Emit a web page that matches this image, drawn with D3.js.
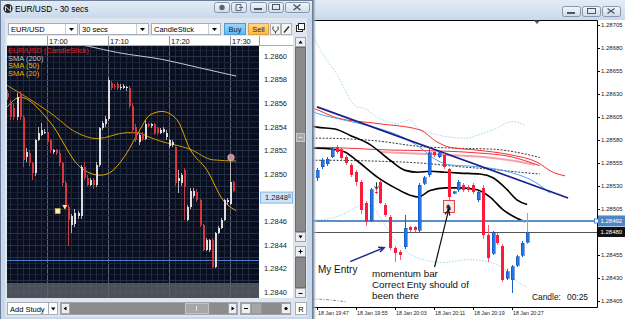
<!DOCTYPE html>
<html>
<head>
<meta charset="utf-8">
<script src="https://cdn.jsdelivr.net/npm/d3@7"></script>
<style>
  body { margin: 0; overflow: hidden; background: #d7e3f1; }
  svg { display: block; font-family: "Liberation Sans", Arial, sans-serif; }
</style>
</head>
<body>
<div id="container"></div>
<script>
/* CONSTANTS AND GLOBALS */
const width = 625, height = 319

/* DATA - left window (EUR/USD 30 secs) */
const leftTitle = "EUR/USD - 30 secs"
const leftSelectors = ["EUR/USD", "30 secs", "CandleStick"]
const leftStart = new Date(2013, 0, 18, 16, 53, 30)
const leftBarSecs = 30
const leftTimeTicks = ["17:00", "17:10", "17:20", "17:30"]
const leftPriceTicks = [1.2860, 1.2858, 1.2856, 1.2854, 1.2852, 1.2850, 1.2848, 1.2846, 1.2844, 1.2842, 1.2840]
const leftLegend = ["EUR/USD (CandleStick)", "SMA (200)", "SMA (50)", "SMA (20)"]
const leftLastPrice = 1.2848
const leftHLine = 1.28427
// [open, high, low, close]
const leftCandles = [
  [1.28569, 1.28571, 1.28563, 1.28565], [1.28560, 1.28563, 1.28546, 1.28548], [1.28556, 1.28560, 1.28546, 1.28548],
  [1.28548, 1.28569, 1.28546, 1.28565], [1.28567, 1.28570, 1.28546, 1.28548], [1.28548, 1.28550, 1.28506, 1.28512],
  [1.28514, 1.28522, 1.28510, 1.28519], [1.28518, 1.28520, 1.28507, 1.28509], [1.28509, 1.28510, 1.28495, 1.28501],
  [1.28501, 1.28530, 1.28498, 1.28529], [1.28529, 1.28540, 1.28528, 1.28535], [1.28533, 1.28543, 1.28532, 1.28537],
  [1.28535, 1.28538, 1.28534, 1.28536], [1.28536, 1.28540, 1.28525, 1.28527], [1.28529, 1.28530, 1.28518, 1.28520],
  [1.28519, 1.28521, 1.28517, 1.28520], [1.28520, 1.28521, 1.28516, 1.28518], [1.28518, 1.28520, 1.28507, 1.28509],
  [1.28509, 1.28510, 1.28490, 1.28492], [1.28492, 1.28494, 1.28470, 1.28472], [1.28472, 1.28474, 1.28439, 1.28461],
  [1.28457, 1.28466, 1.28450, 1.28464], [1.28458, 1.28470, 1.28455, 1.28467], [1.28464, 1.28469, 1.28462, 1.28467],
  [1.28464, 1.28508, 1.28462, 1.28506], [1.28506, 1.28510, 1.28495, 1.28497], [1.28497, 1.28499, 1.28490, 1.28491],
  [1.28491, 1.28497, 1.28490, 1.28495], [1.28495, 1.28497, 1.28487, 1.28491], [1.28491, 1.28510, 1.28489, 1.28508],
  [1.28508, 1.28540, 1.28506, 1.28539], [1.28539, 1.28545, 1.28537, 1.28543], [1.28542, 1.28549, 1.28540, 1.28547],
  [1.28547, 1.28582, 1.28545, 1.28580], [1.28577, 1.28579, 1.28571, 1.28573], [1.28575, 1.28576, 1.28572, 1.28574],
  [1.28576, 1.28578, 1.28571, 1.28573], [1.28573, 1.28576, 1.28571, 1.28574], [1.28573, 1.28576, 1.28572, 1.28575],
  [1.28574, 1.28575, 1.28570, 1.28574], [1.28573, 1.28575, 1.28556, 1.28558], [1.28558, 1.28560, 1.28535, 1.28537],
  [1.28540, 1.28542, 1.28527, 1.28529], [1.28527, 1.28535, 1.28525, 1.28533], [1.28533, 1.28536, 1.28528, 1.28530],
  [1.28530, 1.28546, 1.28529, 1.28542], [1.28542, 1.28543, 1.28540, 1.28541], [1.28541, 1.28543, 1.28539, 1.28542],
  [1.28542, 1.28543, 1.28533, 1.28535], [1.28539, 1.28540, 1.28533, 1.28535], [1.28535, 1.28539, 1.28534, 1.28537],
  [1.28536, 1.28540, 1.28535, 1.28538], [1.28531, 1.28537, 1.28529, 1.28535], [1.28524, 1.28530, 1.28522, 1.28529],
  [1.28525, 1.28529, 1.28523, 1.28527], [1.28523, 1.28525, 1.28490, 1.28492], [1.28494, 1.28503, 1.28484, 1.28497],
  [1.28492, 1.28501, 1.28490, 1.28499], [1.28503, 1.28505, 1.28461, 1.28489], [1.28461, 1.28474, 1.28460, 1.28472],
  [1.28472, 1.28488, 1.28470, 1.28486], [1.28481, 1.28488, 1.28480, 1.28486], [1.28485, 1.28487, 1.28476, 1.28478],
  [1.28478, 1.28479, 1.28455, 1.28457], [1.28457, 1.28458, 1.28435, 1.28436], [1.28436, 1.28446, 1.28435, 1.28444],
  [1.28436, 1.28445, 1.28434, 1.28444], [1.28444, 1.28446, 1.28420, 1.28421], [1.28421, 1.28451, 1.28420, 1.28450],
  [1.28450, 1.28456, 1.28449, 1.28454], [1.28454, 1.28463, 1.28453, 1.28461], [1.28461, 1.28479, 1.28460, 1.28478],
  [1.28476, 1.28480, 1.28474, 1.28478], [1.28475, 1.28514, 1.28474, 1.28493], [1.28493, 1.28494, 1.28485, 1.28486]
]
// [bar index, price]
const leftSma200 = [[15, 1.28614], [27, 1.28608], [36, 1.28603], [51, 1.28597], [63, 1.28590], [75, 1.28583]]
const leftSma50 = [[0, 1.28575], [14, 1.28552], [22.8, 1.28535], [29.4, 1.28530], [39.2, 1.28535], [42.5, 1.28535],
  [46.8, 1.28531], [50, 1.28528], [59.9, 1.28521], [67.4, 1.28512], [75, 1.28511]]
const leftSma20 = [[0, 1.28557], [4.2, 1.28565], [14, 1.28544], [23.8, 1.28506], [30.4, 1.28499], [32.7, 1.28500],
  [39.2, 1.28518], [42.5, 1.28533], [46.8, 1.28550], [50.7, 1.28553], [55.6, 1.28546], [59.9, 1.28521],
  [65.5, 1.28503], [70.7, 1.28478], [75, 1.28469]]
const leftTradeSquare = [16.5, 1.28469]
const leftTradeTriangle = [19, 1.28472]
const leftLastDot = [73, 1.28514]

/* DATA - right chart (1 minute bars) */
const rightStart = new Date(2013, 0, 18, 19, 47)
const rightTimeTicks = ["18 Jan 19:47", "18 Jan 19:55", "18 Jan 20:03", "18 Jan 20:11", "18 Jan 20:19", "18 Jan 20:27"]
const rightPriceTicks = [1.28705, 1.28680, 1.28655, 1.28630, 1.28605, 1.28580, 1.28555, 1.28530, 1.28505, 1.28480, 1.28455, 1.28430, 1.28405]
const rightBidLine = 1.28492
const rightLastLine = 1.28480
const rightCandles = [
  [1.28539, 1.28550, 1.28535, 1.28547], [1.28551, 1.28560, 1.28549, 1.28558], [1.28554, 1.28562, 1.28552, 1.28559],
  [1.28562, 1.28572, 1.28560, 1.28570], [1.28572, 1.28575, 1.28565, 1.28567], [1.28570, 1.28572, 1.28558, 1.28560],
  [1.28562, 1.28564, 1.28553, 1.28555], [1.28553, 1.28555, 1.28540, 1.28542], [1.28545, 1.28547, 1.28530, 1.28534],
  [1.28534, 1.28536, 1.28500, 1.28504], [1.28512, 1.28514, 1.28486, 1.28491], [1.28493, 1.28528, 1.28491, 1.28526],
  [1.28524, 1.28526, 1.28521, 1.28523], [1.28534, 1.28536, 1.28510, 1.28512], [1.28509, 1.28511, 1.28496, 1.28498],
  [1.28496, 1.28498, 1.28460, 1.28463], [1.28463, 1.28465, 1.28447, 1.28457], [1.28458, 1.28460, 1.28450, 1.28455],
  [1.28464, 1.28498, 1.28462, 1.28484], [1.28485, 1.28487, 1.28480, 1.28482], [1.28485, 1.28487, 1.28480, 1.28482],
  [1.28482, 1.28533, 1.28480, 1.28531], [1.28533, 1.28541, 1.28531, 1.28539], [1.28542, 1.28572, 1.28540, 1.28566],
  [1.28567, 1.28569, 1.28562, 1.28564], [1.28562, 1.28568, 1.28560, 1.28566], [1.28564, 1.28566, 1.28549, 1.28551],
  [1.28548, 1.28550, 1.28515, 1.28518], [1.28522, 1.28525, 1.28521, 1.28524], [1.28526, 1.28536, 1.28524, 1.28534],
  [1.28531, 1.28533, 1.28524, 1.28526], [1.28529, 1.28531, 1.28524, 1.28526], [1.28531, 1.28533, 1.28521, 1.28523],
  [1.28515, 1.28525, 1.28513, 1.28523], [1.28528, 1.28531, 1.28472, 1.28477], [1.28477, 1.28488, 1.28447, 1.28452],
  [1.28457, 1.28481, 1.28455, 1.28479], [1.28477, 1.28479, 1.28466, 1.28468], [1.28465, 1.28467, 1.28426, 1.28428],
  [1.28430, 1.28440, 1.28428, 1.28437], [1.28428, 1.28444, 1.28414, 1.28442], [1.28444, 1.28455, 1.28442, 1.28453],
  [1.28455, 1.28470, 1.28453, 1.28468], [1.28469, 1.28501, 1.28467, 1.28479]
]
// [minutes from 19:47, price]
const rightTrend = [[0, 1.28616], [51.5, 1.28517]]
const rightRedFast = [[-1, 1.28615], [0, 1.28613], [4.1, 1.28604], [12.3, 1.28598], [21.1, 1.28591], [24.6, 1.28578], [27.3, 1.28572],
  [32.8, 1.28569], [39.6, 1.28564], [45.1, 1.28556], [48.4, 1.28545], [50.9, 1.28541]]
const rightRedSlow = [[-1, 1.28572], [0, 1.28572], [15.6, 1.28569], [25.8, 1.28568], [32.8, 1.28566], [39.6, 1.28562], [45.7, 1.28552]]
const rightPink = [[13, 1.28567], [25.8, 1.28564], [32.8, 1.28562], [39.6, 1.28558], [44.7, 1.28553]]
const rightEnvUpper = [[-1, 1.28582], [0, 1.28582], [12.3, 1.28579], [21.1, 1.28573], [29.3, 1.28571], [36.1, 1.28570], [41.6, 1.28566], [45.7, 1.28561]]
const rightEnvLower = [[-1, 1.28558], [0, 1.28558], [12.3, 1.28557], [21.1, 1.28555], [29.3, 1.28551], [36.1, 1.28548], [41.6, 1.28545], [45.7, 1.28543]]
const rightBlackUpper = [[-1, 1.28595], [0, 1.28594], [3.7, 1.28592], [6.8, 1.28585], [10.9, 1.28575], [15.0, 1.28558], [18.1, 1.28547],
  [20.7, 1.28545], [23.2, 1.28546], [26.3, 1.28545], [29.3, 1.28544], [33.4, 1.28543], [36.1, 1.28539], [39.0, 1.28526],
  [41.0, 1.28515], [43.1, 1.28510]]
const rightBlackLower = [[-1, 1.28571], [0, 1.28571], [3.3, 1.28570], [5.7, 1.28567], [8.8, 1.28555], [12.3, 1.28540], [16.0, 1.28528],
  [19.1, 1.28520], [20.7, 1.28518], [23.2, 1.28525], [26.3, 1.28528], [29.3, 1.28528], [32.8, 1.28526], [35.5, 1.28518],
  [38.2, 1.28504], [41.0, 1.28495], [42.7, 1.28491]]
const rightSkyLine = [[-1, 1.28611], [0, 1.28609], [5.3, 1.28602], [12.3, 1.28593], [17.6, 1.28583], [21.1, 1.28572], [24.6, 1.28558],
  [27.3, 1.28553], [32.8, 1.28551], [39.6, 1.28545], [45.1, 1.28533], [47.8, 1.28522]]
const rightDotUpper = [[-1, 1.28697], [0, 1.28685], [4.1, 1.28651], [8.2, 1.28616], [9.4, 1.28615], [12.3, 1.28605], [16.4, 1.28598],
  [19.1, 1.28602], [20.5, 1.28594], [23.2, 1.28588], [27.3, 1.28583], [30.8, 1.28582], [32.8, 1.28585], [36.1, 1.28591],
  [40.2, 1.28600], [42.7, 1.28596]]
const rightDotLower = [[-1, 1.28494], [0, 1.28493], [4.7, 1.28498], [7.8, 1.28506], [9.8, 1.28510], [11.9, 1.28504], [13.9, 1.28488],
  [16.0, 1.28471], [18.1, 1.28460], [21.1, 1.28451], [25.8, 1.28447], [31.4, 1.28450], [35.5, 1.28447], [38.6, 1.28439],
  [40.6, 1.28428], [43.1, 1.28420]]
const rightDashBottom = [[-1, 1.28407], [0, 1.28407], [3, 1.28406], [6, 1.28404]]
const rightArrowMark = [12, 1.28534]
const rightMomentumBar = 27
const rightEntryBar = 15
const rightCandleTimer = "00:25"

/* HELPERS */
const parseL = d3.timeParse("%Y-%m-%d %H:%M")
const parseR = d3.timeParse("%Y %d %b %H:%M")
const leftBarTime = i => new Date(leftStart.getTime() + i * leftBarSecs * 1000)
const rightBarTime = k => new Date(rightStart.getTime() + k * 60000)

/* SCALES */
const xL = d3.scaleTime().domain([parseL("2013-01-18 17:00"), parseL("2013-01-18 17:30")]).range([47, 230])
const yL = d3.scaleLinear().domain([1.2840, 1.2860]).range([292, 56])
const xR = d3.scaleTime().domain([rightStart, rightBarTime(40)]).range([317, 512])
const yR = d3.scaleLinear().domain([1.28405, 1.28705]).range([301, 25])

/* SVG */
const svg = d3.select("#container").append("svg")
  .attr("width", width).attr("height", height)
const defs = svg.append("defs")

function vGrad(id, a, b) {
  const g = defs.append("linearGradient").attr("id", id).attr("x1", 0).attr("y1", 0).attr("x2", 0).attr("y2", 1)
  g.append("stop").attr("offset", 0).attr("stop-color", a)
  g.append("stop").attr("offset", 1).attr("stop-color", b)
}
vGrad("titleGrad", "#e3ecf6", "#c9d9eb")
vGrad("btnGrad", "#f2f6fb", "#cfdbe9")
vGrad("buyGrad", "#9ad6fb", "#62b8f0")
vGrad("sellGrad", "#ffd987", "#ffbb45")
const shadow = defs.append("linearGradient").attr("id", "shadowGrad")
shadow.append("stop").attr("offset", 0).attr("stop-color", "#6d7d90")
shadow.append("stop").attr("offset", 1).attr("stop-color", "#ffffff").attr("stop-opacity", 0)

defs.append("clipPath").attr("id", "rclip").append("rect").attr("x", 313).attr("y", 21).attr("width", 284).attr("height", 286)
defs.append("clipPath").attr("id", "lclip").append("rect").attr("x", 7).attr("y", 46).attr("width", 252).attr("height", 252)

function arrow(g, x1, y1, x2, y2, color, w, head) {
  g.append("line").attr("x1", x1).attr("y1", y1).attr("x2", x2).attr("y2", y2)
    .attr("stroke", color).attr("stroke-width", w)
  const a = Math.atan2(y2 - y1, x2 - x1)
  const p1 = [x2 - head * Math.cos(a - 0.45), y2 - head * Math.sin(a - 0.45)]
  const p2 = [x2 - head * Math.cos(a + 0.45), y2 - head * Math.sin(a + 0.45)]
  g.append("path").attr("d", `M${p1}L${x2},${y2}L${p2}`)
    .attr("fill", "none").attr("stroke", color).attr("stroke-width", w)
}

function winButton(g, x, y, w, h) {
  g.append("rect").attr("x", x + 0.5).attr("y", y + 0.5).attr("width", w).attr("height", h).attr("rx", 2)
    .attr("fill", "url(#btnGrad)").attr("stroke", "#8596ad")
}

/* ================= RIGHT WINDOW ================= */
svg.append("rect").attr("width", width).attr("height", height).attr("fill", "#d7e3f1")
svg.append("rect").attr("width", width).attr("height", 20).attr("fill", "url(#titleGrad)")
const rb = svg.append("g")
winButton(rb, 562, 6, 18, 10)
winButton(rb, 582, 6, 18, 10)
winButton(rb, 602, 6, 18, 10)
rb.append("rect").attr("x", 567).attr("y", 12).attr("width", 8).attr("height", 2).attr("fill", "#4a5566")
rb.append("rect").attr("x", 587.5).attr("y", 8.5).attr("width", 8).attr("height", 5).attr("fill", "none").attr("stroke", "#4a5566")
rb.append("path").attr("d", "M607.5,8.5l7,5M614.5,8.5l-7,5").attr("stroke", "#4a5566").attr("stroke-width", 1.3)

const rg = svg.append("g")
rg.append("rect").attr("x", 313).attr("y", 20).attr("width", 312).attr("height", 299).attr("fill", "#fff")
rg.append("path").attr("d", "M313,20.5H597.5V307.5H313").attr("fill", "none").attr("stroke", "#000")
rg.append("path").attr("d", "M534,20.5h6l-3,3.5z").attr("fill", "#555")

// price axis
rg.selectAll(".rtick").data(rightPriceTicks).join("line")
  .attr("x1", 597.5).attr("x2", 600).attr("y1", d => Math.round(yR(d)) + 0.5).attr("y2", d => Math.round(yR(d)) + 0.5)
  .attr("stroke", "#000")
rg.selectAll(".rlab").data(rightPriceTicks).join("text")
  .attr("x", 601).attr("y", d => yR(d) + 2.2).attr("font-size", 6).attr("fill", "#222")
  .text(d => d.toFixed(5))

// time axis
rg.selectAll(".ttick").data(rightTimeTicks).join("line")
  .attr("x1", d => Math.round(xR(parseR("2013 " + d))) + 0.5).attr("x2", d => Math.round(xR(parseR("2013 " + d))) + 0.5)
  .attr("y1", 307).attr("y2", 310).attr("stroke", "#000")
rg.selectAll(".tlab").data(rightTimeTicks).join("text")
  .attr("x", d => xR(parseR("2013 " + d)) + 1).attr("y", 314.5).attr("font-size", 5.3).attr("fill", "#222")
  .text(d => d)

// indicators
const plot = rg.append("g").attr("clip-path", "url(#rclip)")
const lineR = d3.line().x(d => xR(rightBarTime(d[0]))).y(d => yR(d[1])).curve(d3.curveMonotoneX)
const drawR = (data, color, w, dash) => plot.append("path").attr("d", lineR(data))
  .attr("fill", "none").attr("stroke", color).attr("stroke-width", w).attr("stroke-dasharray", dash || null)

drawR(rightDotUpper, "#9fdbe3", 1, "1.5,1.5")
drawR(rightDotLower, "#9fdbe3", 1, "1.5,1.5")
drawR(rightDashBottom, "#8a8a8a", 1, "3,1.5,1,1.5")
drawR(rightEnvUpper, "#222", 0.9, "2,1.5")
drawR(rightEnvLower, "#222", 0.9, "2,1.5")
drawR(rightPink, "#f6a3a8", 2)
drawR(rightRedSlow, "#f03040", 1)
drawR(rightRedFast, "#ff2a2a", 1)
drawR(rightSkyLine, "#4aa3ee", 1)
drawR(rightBlackUpper, "#000", 1.6)
drawR(rightBlackLower, "#000", 1.6)
plot.append("path").attr("d", d3.line().x(d => xR(rightBarTime(d[0]))).y(d => yR(d[1]))(rightTrend))
  .attr("stroke", "#1a1f8f").attr("stroke-width", 1.7).attr("fill", "none")

// horizontal price lines
plot.append("line").attr("x1", 313).attr("x2", 597).attr("y1", yR(rightBidLine)).attr("y2", yR(rightBidLine))
  .attr("stroke", "#5a8fc8").attr("stroke-width", 2)
plot.append("line").attr("x1", 313).attr("x2", 597).attr("y1", Math.round(yR(rightLastLine)) + 0.5).attr("y2", Math.round(yR(rightLastLine)) + 0.5)
  .attr("stroke", "#555").attr("stroke-width", 1)

// candles
const rc = plot.append("g").attr("shape-rendering", "crispEdges")
rightCandles.forEach((d, k) => {
  const cx = Math.round(xR(rightBarTime(k)))
  const up = d[3] >= d[0]
  const col = up ? "#2277e6" : "#ff1a3c"
  rc.append("line").attr("x1", cx + 0.5).attr("x2", cx + 0.5).attr("y1", yR(d[1])).attr("y2", yR(d[2]))
    .attr("stroke", k === rightCandles.length - 1 ? "#9a9cf2" : (up ? "#1b5fd0" : "#ff5a7a"))
  const top = yR(Math.max(d[0], d[3])), bot = yR(Math.min(d[0], d[3]))
  rc.append("rect").attr("x", cx - 1).attr("y", top).attr("width", 3).attr("height", Math.max(1, bot - top))
    .attr("fill", col).attr("stroke", up ? "#0d47b4" : "none").attr("stroke-width", 0.5)
})

// small down-arrow marker
{
  const ax = Math.round(xR(rightBarTime(rightArrowMark[0]))) + 0.5, ay = yR(rightArrowMark[1])
  plot.append("line").attr("x1", ax).attr("x2", ax).attr("y1", ay).attr("y2", ay + 7).attr("stroke", "#333")
  plot.append("path").attr("d", `M${ax - 2},${ay + 4}L${ax},${ay + 7}L${ax + 2},${ay + 4}`).attr("fill", "none").attr("stroke", "#333")
}

// price labels on axis
rg.append("rect").attr("x", 598).attr("y", yR(rightBidLine) - 5.5).attr("width", 27).attr("height", 11).attr("fill", "#4f86c4")
rg.append("text").attr("x", 600.5).attr("y", yR(rightBidLine) + 2.2).attr("font-size", 6).attr("fill", "#fff").text(rightBidLine.toFixed(5))
rg.append("rect").attr("x", 594.5).attr("y", yR(rightBidLine) - 2).attr("width", 4).attr("height", 4).attr("fill", "#fff").attr("stroke", "#4f86c4")
rg.append("rect").attr("x", 598).attr("y", yR(rightLastLine) - 5).attr("width", 27).attr("height", 10).attr("fill", "#111")
rg.append("text").attr("x", 600.5).attr("y", yR(rightLastLine) + 2.2).attr("font-size", 6).attr("fill", "#fff").text(rightLastLine.toFixed(5))

// annotations
const ann = rg.append("g")
{
  const ex = xR(rightBarTime(rightEntryBar)) - 6, ey = yR(rightCandles[rightEntryBar][3])
  arrow(ann, ex - 34, ey + 14, ex, ey, "#1c2a8a", 1.5, 6)
  ann.append("text").attr("x", 318).attr("y", 273).attr("font-size", 10).attr("fill", "#111").text("My Entry")

  const bx = xR(rightBarTime(rightMomentumBar)), by = yR(rightCandles[rightMomentumBar][2])
  ann.append("rect").attr("x", Math.round(bx) - 5.5).attr("y", Math.round(by) + 0.5).attr("width", 11).attr("height", 12)
    .attr("fill", "#fde8e8").attr("stroke", "#e0484a")
  ann.append("text").attr("x", bx).attr("y", by + 10).attr("text-anchor", "middle").attr("font-size", 8)
    .attr("font-family", "DejaVu Sans").attr("fill", "#222").text("\u265E")
  arrow(ann, bx - 14, 267, bx, by + 10, "#111", 1.2, 6)

  ann.append("text").attr("x", 372).attr("y", 277).attr("font-size", 9.8).attr("fill", "#111").text("momentum bar")
  ann.append("text").attr("x", 372).attr("y", 288).attr("font-size", 9.8).attr("fill", "#111").text("Correct Enty should of")
  ann.append("text").attr("x", 372).attr("y", 299).attr("font-size", 9.8).attr("fill", "#111").text("been there")

  ann.append("text").attr("x", 532).attr("y", 300).attr("font-size", 8.4).attr("fill", "#111").text("Candle:")
  ann.append("text").attr("x", 567).attr("y", 300).attr("font-size", 8.4).attr("fill", "#111").text(rightCandleTimer)
}

/* ================= LEFT WINDOW ================= */
svg.append("rect").attr("x", 313).attr("y", 0).attr("width", 4).attr("height", height).attr("fill", "url(#shadowGrad)")
const lw = svg.append("g")
lw.append("rect").attr("x", 0.5).attr("y", 0.5).attr("width", 312).attr("height", 320).attr("fill", "#c8d8ea").attr("stroke", "#6d7f98")
lw.append("rect").attr("x", 1).attr("y", 1).attr("width", 311).attr("height", 17).attr("fill", "url(#titleGrad)")
lw.append("circle").attr("cx", 8).attr("cy", 8.5).attr("r", 4.6).attr("fill", "#2b2b2b")
lw.append("path").attr("d", "M5.5,11V6.5L10.5,11V6").attr("stroke", "#ddd").attr("stroke-width", 1).attr("fill", "none")
lw.append("text").attr("x", 15).attr("y", 12).attr("font-size", 8.3).attr("fill", "#000").text(leftTitle)
winButton(lw, 214, 2, 15, 10)
winButton(lw, 231, 2, 15, 10)
winButton(lw, 250, 2, 16, 10)
winButton(lw, 268, 2, 15, 10)
winButton(lw, 285, 2, 24, 10)
lw.append("circle").attr("cx", 222).attr("cy", 7.5).attr("r", 2.7).attr("fill", "#5a6676")
lw.append("path").attr("d", "M236,4.5h5v6h-5zM239,7.5h4").attr("fill", "none").attr("stroke", "#5a6676")
lw.append("rect").attr("x", 254).attr("y", 8).attr("width", 8).attr("height", 2).attr("fill", "#4a5566")
lw.append("rect").attr("x", 272.5).attr("y", 4.5).attr("width", 7).attr("height", 5).attr("fill", "none").attr("stroke", "#4a5566")
lw.append("path").attr("d", "M293.5,4.5l7,5.5M300.5,4.5l-7,5.5").attr("stroke", "#4a5566").attr("stroke-width", 1.4)

// client area
lw.append("rect").attr("x", 5).attr("y", 18).attr("width", 302).attr("height", 299).attr("fill", "#dfe6ef")

// toolbar
const dd = [[8, 69], [79, 69], [151, 69]]
leftSelectors.forEach((s, i) => {
  const [x, w] = dd[i]
  lw.append("rect").attr("x", x + 0.5).attr("y", 23.5).attr("width", w).attr("height", 11).attr("fill", "#fff").attr("stroke", "#a5adb8")
  lw.append("line").attr("x1", x + w - 11.5).attr("x2", x + w - 11.5).attr("y1", 24).attr("y2", 34).attr("stroke", "#c8ccd2")
  lw.append("path").attr("d", `M${x + w - 8},28h5l-2.5,3z`).attr("fill", "#000")
  lw.append("text").attr("x", x + 3).attr("y", 32).attr("font-size", 7.5).attr("fill", "#000").text(s)
})
lw.append("rect").attr("x", 224.5).attr("y", 23.5).attr("width", 21).attr("height", 11).attr("fill", "url(#buyGrad)").attr("stroke", "#4a9bd6")
lw.append("text").attr("x", 235).attr("y", 32).attr("text-anchor", "middle").attr("font-size", 7.5).attr("fill", "#0c2a44").text("Buy")
lw.append("rect").attr("x", 248.5).attr("y", 23.5).attr("width", 20).attr("height", 11).attr("fill", "url(#sellGrad)").attr("stroke", "#e0a040")
lw.append("text").attr("x", 258.5).attr("y", 32).attr("text-anchor", "middle").attr("font-size", 7.5).attr("fill", "#3a2400").text("Sell")
lw.append("rect").attr("x", 270.5).attr("y", 23.5).attr("width", 10).attr("height", 11).attr("fill", "#f4f4f4").attr("stroke", "#b0b4ba")
lw.append("path").attr("d", "M273,26.5v3l2.5,2.5l2.5-2.5v-3M275.5,32v1.5").attr("fill", "none").attr("stroke", "#333")
lw.append("rect").attr("x", 281.5).attr("y", 23.5).attr("width", 10).attr("height", 11).attr("fill", "#f4f4f4").attr("stroke", "#b0b4ba")
lw.append("path").attr("d", "M284,32.5l5-6").attr("stroke", "#222").attr("stroke-width", 1.2)
lw.append("rect").attr("x", 296.5).attr("y", 25.5).attr("width", 6).attr("height", 6).attr("fill", "#fff").attr("stroke", "#222")
lw.append("rect").attr("x", 298.5).attr("y", 23.5).attr("width", 6).attr("height", 6).attr("fill", "#fff").attr("stroke", "#222")

// time header
lw.append("rect").attr("x", 7).attr("y", 36).attr("width", 286).attr("height", 10).attr("fill", "#fff")
lw.append("line").attr("x1", 7).attr("x2", 293).attr("y1", 45.5).attr("y2", 45.5).attr("stroke", "#b0b0b0")
leftTimeTicks.forEach(s => {
  const x = Math.round(xL(parseL("2013-01-18 " + s))) + 0.5
  lw.append("line").attr("x1", x).attr("x2", x).attr("y1", 36).attr("y2", 46).attr("stroke", "#999")
  lw.append("text").attr("x", x + 1.5).attr("y", 44).attr("font-size", 7.5).attr("fill", "#111").text(s)
})
lw.append("line").attr("x1", 259.5).attr("x2", 259.5).attr("y1", 36).attr("y2", 46).attr("stroke", "#999")

// plot background + grid
lw.append("rect").attr("x", 7).attr("y", 46).attr("width", 252).attr("height", 252).attr("fill", "#0a0f1f")
const lp = lw.append("g").attr("clip-path", "url(#lclip)")
const minutes = d3.timeMinute.range(leftBarTime(-4), leftBarTime(80))
lp.selectAll(".vg").data(minutes).join("line")
  .attr("x1", d => Math.round(xL(d)) + 0.5).attr("x2", d => Math.round(xL(d)) + 0.5)
  .attr("y1", 46).attr("y2", 298)
  .attr("stroke", d => d.getMinutes() % 10 === 0 ? "#5c6272" : "#1f2940")
const levels = d3.range(0, 48).map(i => 1.28385 + i * 0.00005)
lp.selectAll(".hg").data(levels).join("line")
  .attr("x1", 7).attr("x2", 259)
  .attr("y1", d => Math.round(yL(d)) + 0.5).attr("y2", d => Math.round(yL(d)) + 0.5)
  .attr("stroke", (d, i) => i % 2 === 1 ? "#27314a" : "#1a2236")
lp.append("rect").attr("x", 7).attr("y", 283).attr("width", 252).attr("height", 15).attr("fill", "#5c6068").attr("opacity", 0.8)
lp.append("line").attr("x1", 7).attr("x2", 259).attr("y1", Math.round(yL(leftHLine)) + 0.5).attr("y2", Math.round(yL(leftHLine)) + 0.5)
  .attr("stroke", "#4d7fd0")

// SMA lines
const lineL = d3.line().x(d => xL(leftBarTime(d[0]))).y(d => yL(d[1])).curve(d3.curveMonotoneX)
lp.append("path").attr("d", lineL(leftSma200)).attr("fill", "none").attr("stroke", "#c9c9cf").attr("stroke-width", 1)
lp.append("path").attr("d", lineL(leftSma50)).attr("fill", "none").attr("stroke", "#c99b00").attr("stroke-width", 1)
lp.append("path").attr("d", lineL(leftSma20)).attr("fill", "none").attr("stroke", "#e8a600").attr("stroke-width", 1)

// candles
const lc = lp.append("g").attr("shape-rendering", "crispEdges")
leftCandles.forEach((d, i) => {
  const cx = Math.round(xL(leftBarTime(i)))
  const up = d[3] >= d[0]
  lc.append("line").attr("x1", cx + 0.5).attr("x2", cx + 0.5).attr("y1", yL(d[1])).attr("y2", yL(d[2]))
    .attr("stroke", up ? "#b4b4b8" : "#c04048")
  const top = yL(Math.max(d[0], d[3])), bot = yL(Math.min(d[0], d[3]))
  lc.append("rect").attr("x", cx - 0.5).attr("y", top).attr("width", 2).attr("height", Math.max(1, bot - top))
    .attr("fill", up ? "#dedede" : "#d6383e")
})

// trade markers
{
  const sx = xL(leftBarTime(leftTradeSquare[0])), sy = yL(leftTradeSquare[1])
  lp.append("rect").attr("x", sx - 2.5).attr("y", sy - 2).attr("width", 5).attr("height", 5)
    .attr("fill", "#fff2b0").attr("stroke", "#c8b060").attr("stroke-width", 0.6)
  const tx = xL(leftBarTime(leftTradeTriangle[0])), ty = yL(leftTradeTriangle[1])
  lp.append("path").attr("d", `M${tx - 3},${ty - 2}h5l-2.5,4.5z`).attr("fill", "#ffe680")
  const dx = xL(leftBarTime(leftLastDot[0])), dy = yL(leftLastDot[1])
  lp.append("circle").attr("cx", dx + 1).attr("cy", dy).attr("r", 3.3).attr("fill", "#c48e96").attr("stroke", "#e8b9c0").attr("stroke-width", 0.6)
}

// legend
const legendColor = ["#e3201e", "#c0c0c8", "#e0c000", "#f0a400"]
leftLegend.forEach((s, i) => {
  lp.append("text").attr("x", 8).attr("y", 53 + i * 7.7).attr("font-size", 7.5).attr("fill", legendColor[i]).text(s)
})

// price axis
lw.append("rect").attr("x", 259).attr("y", 46).attr("width", 34).attr("height", 252).attr("fill", "#fff")
lw.selectAll(".lp").data(leftPriceTicks.filter(p => p !== leftLastPrice)).join("text")
  .attr("x", 287).attr("y", d => yL(d) + 2.7).attr("text-anchor", "end").attr("font-size", 7.5).attr("fill", "#222")
  .text(d => d.toFixed(4))
lw.append("rect").attr("x", 260.5).attr("y", yL(leftLastPrice) - 5.5).attr("width", 32).attr("height", 11)
  .attr("fill", "#cfe4f8").attr("stroke", "#86b6e4")
{
  const t = lw.append("text").attr("x", 265).attr("y", yL(leftLastPrice) + 2.7).attr("font-size", 7.5).attr("fill", "#222")
  t.append("tspan").text(leftLastPrice.toFixed(4))
  t.append("tspan").attr("dy", -2.5).attr("font-size", 5).text("0")
}

// vertical scrollbar
const sb = lw.append("g")
sb.append("rect").attr("x", 294).attr("y", 36).attr("width", 13).attr("height", 263).attr("fill", "#dfe6ef")
sb.append("rect").attr("x", 295.5).attr("y", 37.5).attr("width", 10).attr("height", 9).attr("fill", "#eef0f2").attr("stroke", "#a0a4aa")
sb.append("path").attr("d", "M298.5,43.5h4l-2-3z").attr("fill", "#000")
sb.append("rect").attr("x", 295.5).attr("y", 47.5).attr("width", 10).attr("height", 184).attr("fill", "#8a8a8a").attr("stroke", "#6e6e6e")
sb.append("rect").attr("x", 296.5).attr("y", 133.5).attr("width", 8).attr("height", 8).attr("fill", "#a8a8a8").attr("stroke", "#c8c8c8")
sb.append("path").attr("d", "M298.5,137.5h4").attr("stroke", "#e0e0e0")
sb.append("rect").attr("x", 295.5).attr("y", 232.5).attr("width", 10).attr("height", 9).attr("fill", "#eef0f2").attr("stroke", "#a0a4aa")
sb.append("path").attr("d", "M298.5,235.5h4l-2,3z").attr("fill", "#000")
sb.append("rect").attr("x", 295.5).attr("y", 246.5).attr("width", 10).attr("height", 10).attr("fill", "#eef0f2").attr("stroke", "#a0a4aa")
sb.append("path").attr("d", "M298.5,251.5h4M300.5,249.5v4").attr("stroke", "#000")
sb.append("rect").attr("x", 295.5).attr("y", 257.5).attr("width", 10).attr("height", 30).attr("fill", "#8a8a8a").attr("stroke", "#6e6e6e")
sb.append("rect").attr("x", 295.5).attr("y", 288.5).attr("width", 10).attr("height", 9).attr("fill", "#eef0f2").attr("stroke", "#a0a4aa")
sb.append("path").attr("d", "M298.5,293.5h4").attr("stroke", "#000")

// bottom bar
const bb = lw.append("g")
bb.append("rect").attr("x", 7.5).attr("y", 302.5).attr("width", 41).attr("height", 12).attr("fill", "#fff").attr("stroke", "#a5adb8")
bb.append("text").attr("x", 10).attr("y", 311.5).attr("font-size", 7.5).attr("fill", "#000").text("Add Study")
bb.append("rect").attr("x", 48.5).attr("y", 302.5).attr("width", 9).attr("height", 12).attr("fill", "#fff").attr("stroke", "#a5adb8")
bb.append("path").attr("d", "M51,307.5h4.5l-2.25,3z").attr("fill", "#000")
bb.append("rect").attr("x", 60.5).attr("y", 302.5).attr("width", 177).attr("height", 12).attr("fill", "#8c8c8c").attr("stroke", "#a0a4aa")
bb.append("rect").attr("x", 61.5).attr("y", 303.5).attr("width", 8).attr("height", 10).attr("fill", "#eef0f2").attr("stroke", "#a0a4aa")
bb.append("path").attr("d", "M66.5,306.5v4l-3-2z").attr("fill", "#000")
bb.append("rect").attr("x", 185.5).attr("y", 303.5).attr("width", 23).attr("height", 10).attr("fill", "#a6a6a6").attr("stroke", "#c4c4c4")
bb.append("path").attr("d", "M196.5,306v5").attr("stroke", "#e4e4e4")
bb.append("rect").attr("x", 228.5).attr("y", 303.5).attr("width", 8).attr("height", 10).attr("fill", "#eef0f2").attr("stroke", "#a0a4aa")
bb.append("path").attr("d", "M231.5,306.5v4l3-2z").attr("fill", "#000")
bb.append("rect").attr("x", 240.5).attr("y", 302.5).attr("width", 50).attr("height", 12).attr("fill", "#8c8c8c").attr("stroke", "#a0a4aa")
bb.append("rect").attr("x", 241.5).attr("y", 303.5).attr("width", 9).attr("height", 10).attr("fill", "#eef0f2").attr("stroke", "#a0a4aa")
bb.append("path").attr("d", "M244,308.5h4").attr("stroke", "#000")
bb.append("rect").attr("x", 251.5).attr("y", 303.5).attr("width", 10).attr("height", 10).attr("fill", "#a6a6a6")
bb.append("rect").attr("x", 281.5).attr("y", 303.5).attr("width", 9).attr("height", 10).attr("fill", "#eef0f2").attr("stroke", "#a0a4aa")
bb.append("circle").attr("cx", 286).attr("cy", 308.5).attr("r", 1.6).attr("fill", "#000")
bb.append("rect").attr("x", 295.5).attr("y", 302.5).attr("width", 11).attr("height", 12).attr("fill", "#fff").attr("stroke", "#a5adb8")
bb.append("text").attr("x", 301).attr("y", 311.5).attr("text-anchor", "middle").attr("font-size", 7.5).attr("fill", "#000").text("R")
</script>
</body>
</html>
